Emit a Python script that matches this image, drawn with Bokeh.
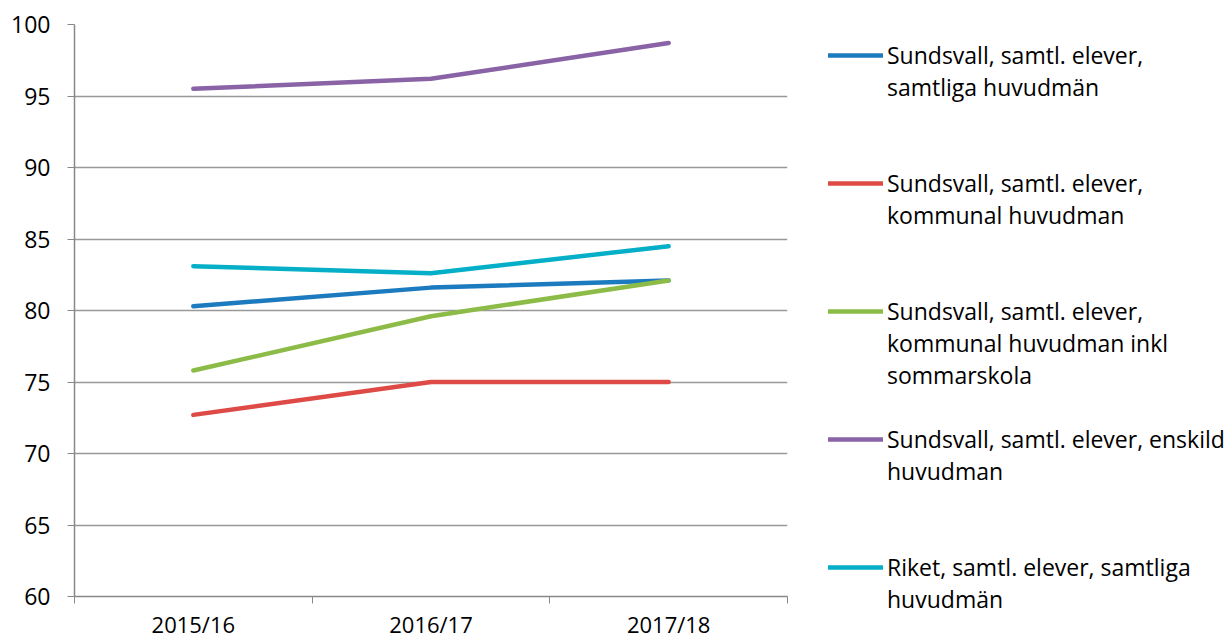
from bokeh.plotting import figure
from bokeh.models import FixedTicker, Legend, LegendItem, Range1d
from bokeh.embed import file_html
from bokeh.resources import INLINE

years = ["2015/16", "2016/17", "2017/18"]
sundsvall_alla = [80.3, 81.6, 82.1]
sundsvall_kommunal = [72.7, 75.0, 75.0]
sundsvall_kommunal_sommar = [75.8, 79.6, 82.1]
sundsvall_enskild = [95.5, 96.2, 98.7]
riket_alla = [83.1, 82.6, 84.5]
y_ticks = [60, 65, 70, 75, 80, 85, 90, 95, 100]

series = [
    (["Sundsvall, samtl. elever,", "samtliga huvudmän"], sundsvall_alla, "#1C7BBF"),
    (["Sundsvall, samtl. elever,", "kommunal huvudman"], sundsvall_kommunal, "#DE4B47"),
    (["Sundsvall, samtl. elever,", "kommunal huvudman inkl", "sommarskola"], sundsvall_kommunal_sommar, "#8CBC47"),
    (["Sundsvall, samtl. elever, enskild", "huvudman"], sundsvall_enskild, "#8963A6"),
    (["Riket, samtl. elever, samtliga", "huvudmän"], riket_alla, "#05AFC8"),
]

FONT = "Open Sans"
ROWS_PER_ENTRY = 4
x = [i + 0.5 for i in range(len(years))]

p = figure(width=1211, height=626, frame_width=713, frame_height=572,
           x_range=Range1d(0, len(years)), y_range=Range1d(60, 100),
           output_backend="svg", toolbar_location=None,
           min_border_left=74, min_border_top=24, min_border_bottom=4, min_border_right=4)
p.outline_line_color = None

# invisible renderer used for continuation lines of the legend labels
blank = p.line(x=[], y=[], line_alpha=0)

items = []
for idx, (lines, vals, col) in enumerate(series):
    r = p.line(x, vals, line_color=col, line_width=4.5, line_cap="round", line_join="round")
    items.append(LegendItem(label=lines[0], renderers=[r]))
    for ln in lines[1:]:
        items.append(LegendItem(label=ln, renderers=[blank]))
    if idx < len(series) - 1:
        for _ in range(ROWS_PER_ENTRY - len(lines)):
            items.append(LegendItem(label=" ", renderers=[blank]))

p.xaxis.ticker = FixedTicker(ticks=x, minor_ticks=list(range(len(years) + 1)))
p.xaxis.major_label_overrides = {xv: y for xv, y in zip(x, years)}
p.xaxis.major_tick_out = 0
p.xaxis.major_tick_in = 0
p.xaxis.minor_tick_out = 7
p.xaxis.minor_tick_in = 0
p.xaxis.minor_tick_line_color = "#888888"
p.xaxis.axis_line_color = "#888888"
p.xaxis.axis_line_width = 1.5
p.xaxis.major_label_text_font = FONT
p.xaxis.major_label_text_font_size = "22px"
p.xaxis.major_label_text_color = "#000000"
p.xaxis.major_label_standoff = 5

p.yaxis.ticker = FixedTicker(ticks=y_ticks)
p.yaxis.minor_tick_line_color = None
p.yaxis.major_tick_out = 7
p.yaxis.major_tick_in = 0
p.yaxis.major_tick_line_color = "#888888"
p.yaxis.axis_line_color = "#888888"
p.yaxis.axis_line_width = 1.5
p.yaxis.major_label_text_font = FONT
p.yaxis.major_label_text_font_size = "23px"
p.yaxis.major_label_text_color = "#000000"
p.yaxis.major_label_standoff = 17

p.xgrid.grid_line_color = None
p.ygrid.grid_line_color = "#999999"
p.ygrid.grid_line_width = 1.5

legend = Legend(items=items, location=(41, -19), border_line_color=None, background_fill_alpha=0,
                glyph_width=55, glyph_height=32, label_height=32, label_standoff=4, spacing=0,
                label_text_font=FONT, label_text_font_size="23px", label_text_color="#000000",
                padding=0, margin=0)
p.add_layout(legend, "right")

open("out.html", "w").write(file_html(p, INLINE))
